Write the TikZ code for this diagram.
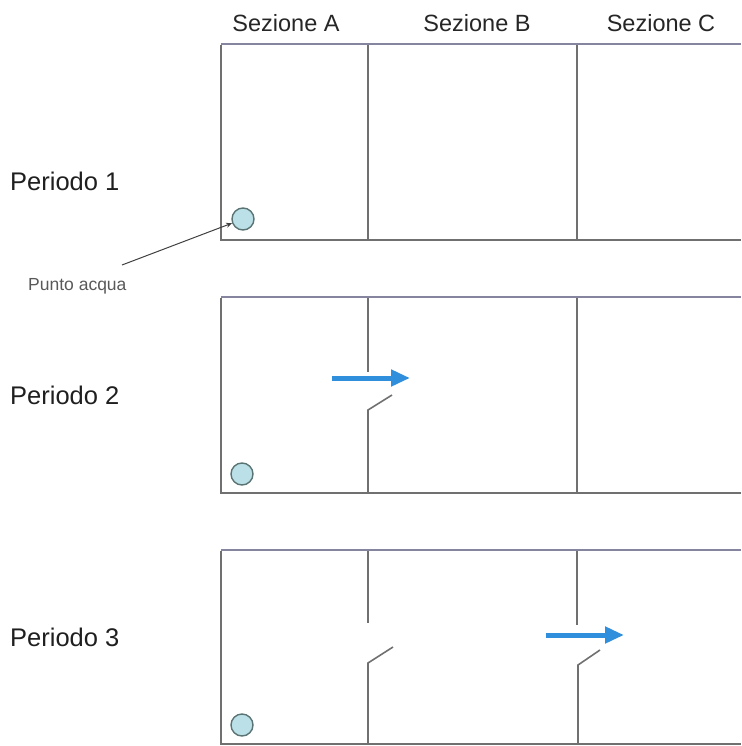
\documentclass[tikz,border=0pt]{standalone}
\usepackage{fontspec}
\setmainfont{Liberation Sans}
\usetikzlibrary{arrows.meta}
\definecolor{framecol}{HTML}{8585A0}
\definecolor{wallcol}{HTML}{707070}
\definecolor{watercol}{HTML}{BCE0E8}
\definecolor{flowcol}{HTML}{2F8FDC}
\begin{document}
\begin{tikzpicture}[x=1pt,y=-1pt,
    head/.style={font=\fontsize{23.5}{26}\selectfont,text=black!85,anchor=base},
    period/.style={font=\fontsize{25.5}{28}\selectfont,text=black!88,anchor=base west,inner sep=0pt},
    wall/.style={draw=wallcol,line width=1.6pt},
    topline/.style={draw=framecol,line width=2.6pt},
    tap/.style={circle,draw=wallcol!80!teal,fill=watercol,line width=1.4pt,minimum size=22pt,inner sep=0pt},
    flow/.style={draw=flowcol,line width=5pt,-{Triangle[length=19pt,width=16pt]}}]
  \useasboundingbox (0,0) rectangle (741,746);
        \node[head] (secA) at (286,32) {Sezione A};
        \node[head] (secB) at (477,32) {Sezione B};
        \node[head] (secC) at (661,32) {Sezione C};
        \node[period] (per1) at (10,190) {Periodo 1};
        \node[period] (per2) at (10,404) {Periodo 2};
        \node[period] (per3) at (10,646) {Periodo 3};
        \node[anchor=base west,inner sep=0pt,font=\fontsize{17.5}{20}\selectfont,text=black!65] (punto) at (28,290) {Punto acqua};
        % periodo 1
        \draw[wall] (221,45) -- (221,240) -- (741,240);
        \draw[wall] (368,45) -- (368,240);
        \draw[wall] (577,45) -- (577,240);
        \draw[topline] (221,44) -- (741,44);
        \node[tap] (tap1) at (243,219) {};
        \coordinate (lead) at (122,265);
        \draw[black!75,line width=1pt,-{Stealth[length=6pt,width=5pt]}] (lead) -- (tap1);
        % periodo 2
        \draw[wall] (221,298) -- (221,493) -- (741,493);
        \draw[wall] (368,298) -- (368,372);
        \draw[wall] (368,493) -- (368,410) -- (392,395);
        \draw[wall] (577,298) -- (577,493);
        \draw[topline] (221,297) -- (741,297);
        \node[tap] (tap2) at (242,474) {};
        \coordinate (fromA) at (332,378);
        \coordinate (toB) at (410,378);
        \draw[flow] (fromA) -- (toB);
        % periodo 3
        \draw[wall] (221,551) -- (221,744) -- (741,744);
        \draw[wall] (368,551) -- (368,623);
        \draw[wall] (368,744) -- (368,663) -- (393,647);
        \draw[wall] (577,551) -- (577,625);
        \draw[wall] (578,744) -- (578,665) -- (600,650);
        \draw[topline] (221,550) -- (741,550);
        \node[tap] (tap3) at (242,725) {};
        \coordinate (fromB) at (546,635);
        \coordinate (toC) at (624,635);
        \draw[flow] (fromB) -- (toC);
      \end{tikzpicture}
\end{document}
